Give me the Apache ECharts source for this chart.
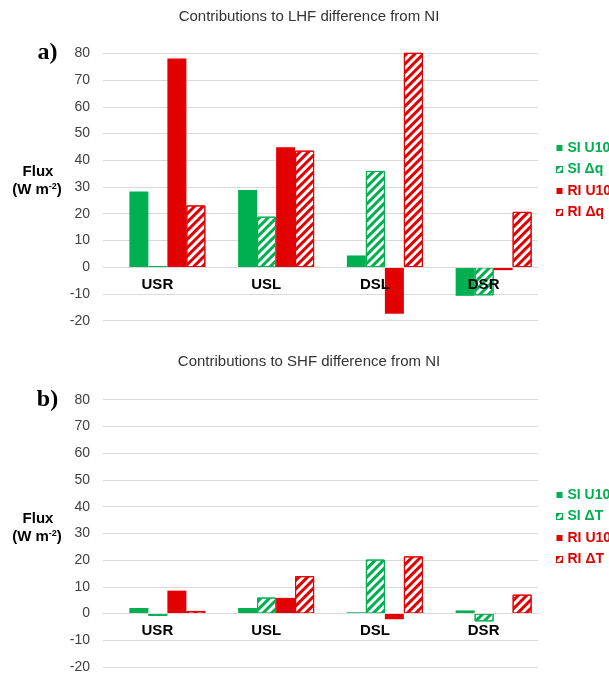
<!DOCTYPE html>
<html>
<head>
<meta charset="utf-8">
<script src="https://cdn.jsdelivr.net/npm/echarts@6/dist/echarts.min.js"></script>
<style>
  html, body { margin: 0; padding: 0; background: #fff; }
  #main { width: 609px; height: 673px; }
</style>
</head>
<body>
<div id="main"></div>
<script>
// 分类
const categories = ['USR', 'USL', 'DSL', 'DSR']

// a) LHF
const lhfNames = ['SI U10', 'SI Δq', 'RI U10', 'RI Δq']
const lhfSiU10 = [28.3, 28.9, 4.4, -10.7]
const lhfSiDq = [0.3, 18.9, 36, -10.5]
const lhfRiU10 = [78.1, 44.9, -17.4, -1.1]
const lhfRiDq = [23.1, 43.6, 81, 20.7]

// b) SHF
const shfNames = ['SI U10', 'SI ΔT', 'RI U10', 'RI ΔT']
const shfSiU10 = [2.1, 2.1, 0.5, 1.2]
const shfSiDt = [-0.9, 6, 20.2, -2.9]
const shfRiU10 = [8.6, 5.9, -2.1, 0]
const shfRiDt = [1, 14, 21.4, 7.1]

const GREEN = '#00B050'
const RED = '#E30000'
const FONT = '"Liberation Sans", Arial, sans-serif'
const GRID_H = 267.4

// 实心
function solid(color) {
  return { color: color }
}
// 斜线填充
function hatch(color) {
  return {
    color: '#fff',
    borderColor: color,
    borderWidth: 1,
    decal: {
      symbol: 'rect',
      symbolSize: 1,
      color: color,
      dashArrayX: [1, 0],
      dashArrayY: [3, 3],
      rotation: -Math.PI / 4
    }
  }
}

const styles = [solid(GREEN), hatch(GREEN), solid(RED), hatch(RED)]
const textColors = [GREEN, GREEN, RED, RED]

// 一组坐标轴：带刻度的网格 + 放柱子的网格（柱子整体右移约10px）
function axesFor(top) {
  const grids = [
    { left: 103, width: 435, top: top, height: GRID_H, outerBoundsMode: 'none' },
    { left: 113, width: 435, top: top, height: GRID_H, outerBoundsMode: 'none' }
  ]
  const xAxes = [
    {
      type: 'category',
      data: categories,
      z: 10,
      // 标签放在0线下面
      offset: -GRID_H * 0.2,
      axisTick: { show: false },
      axisLine: { onZero: false, lineStyle: { color: '#d9d9d9', width: 1 } },
      axisLabel: {
        color: '#000',
        fontSize: 15,
        fontWeight: 'bold',
        fontFamily: FONT,
        margin: 10
      }
    },
    { type: 'category', data: categories, show: false }
  ]
  const yAxes = [
    {
      type: 'value',
      min: -20,
      max: 80,
      interval: 10,
      axisLine: { show: false },
      axisTick: { show: false },
      axisLabel: { color: '#404040', fontSize: 14, fontFamily: FONT, margin: 13 },
      splitLine: { lineStyle: { color: '#d9d9d9', width: 1 } }
    },
    { type: 'value', min: -20, max: 80, interval: 10, show: false }
  ]
  return { grids, xAxes, yAxes }
}

function barSeries(names, values, axisIndex) {
  return names.map((name, i) => ({
    name: name,
    type: 'bar',
    xAxisIndex: axisIndex,
    yAxisIndex: axisIndex,
    barWidth: 19,
    barGap: '0%',
    itemStyle: styles[i],
    data: values[i]
  }))
}

function legendFor(names, top) {
  return {
    orient: 'vertical',
    left: 551,
    top: top,
    icon: 'rect',
    itemWidth: 6,
    itemHeight: 6,
    itemGap: 7.5,
    textStyle: { fontSize: 14, fontWeight: 'bold', fontFamily: FONT, lineHeight: 14 },
    data: names.map((name, i) => ({
      name: name,
      textStyle: { color: textColors[i] },
      itemStyle: i % 2 === 1 ? { borderColor: textColors[i], borderWidth: 1 } : {}
    }))
  }
}

function label(text, x, y, font, extra) {
  return {
    type: 'text',
    x: x,
    y: y,
    style: Object.assign({
      text: text,
      align: 'center',
      verticalAlign: 'middle',
      fill: '#000',
      font: font
    }, extra || {})
  }
}

function fluxUnit(x, y) {
  return label('(W m{s|-2})', x, y, 'bold 15px ' + FONT, {
    rich: { s: { fontSize: 9, fontWeight: 'bold', fontFamily: FONT, verticalAlign: 'top' } }
  })
}

const a = axesFor(53.3)
const b = axesFor(399.7)

const myChart = echarts.init(document.querySelector('#main'))
const option = {
  animation: false,
  backgroundColor: '#fff',
  grid: [...a.grids, ...b.grids],
  xAxis: [...a.xAxes, ...b.xAxes].map((ax, i) => Object.assign({ gridIndex: i }, ax)),
  yAxis: [...a.yAxes, ...b.yAxes].map((ax, i) => Object.assign({ gridIndex: i }, ax)),
  legend: [legendFor(lhfNames, 136), legendFor(shfNames, 483)],
  series: [
    ...barSeries(lhfNames, [lhfSiU10, lhfSiDq, lhfRiU10, lhfRiDq], 1),
    ...barSeries(shfNames, [shfSiU10, shfSiDt, shfRiU10, shfRiDt], 3)
  ],
  graphic: [
    label('Contributions to LHF difference from NI', 309, 17, '15px ' + FONT, { fill: '#333' }),
    label('Contributions to SHF difference from NI', 309, 362, '15px ' + FONT, { fill: '#333' }),
    label('a)', 47.5, 53, 'bold 24px "Liberation Serif", serif'),
    label('b)', 47.5, 400, 'bold 24px "Liberation Serif", serif'),
    label('Flux', 38, 172, 'bold 15px ' + FONT),
    fluxUnit(37, 190),
    label('Flux', 38, 519, 'bold 15px ' + FONT),
    fluxUnit(37, 537)
  ]
}
myChart.setOption(option)
</script>
</body>
</html>
